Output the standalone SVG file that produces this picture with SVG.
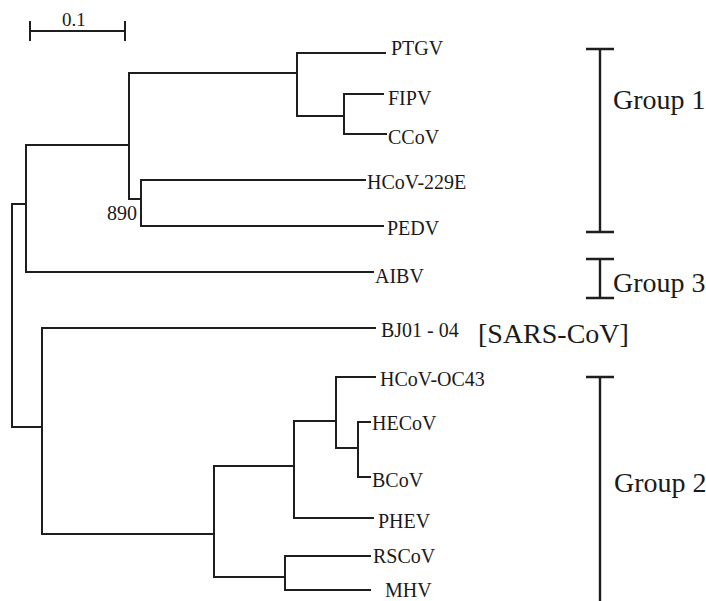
<svg xmlns="http://www.w3.org/2000/svg" width="706" height="601" viewBox="0 0 706 601">
<style>
.br{fill:none;stroke:#1e1e1e;stroke-width:2;stroke-linecap:square}
.bk{fill:none;stroke:#1e1e1e;stroke-width:2.4}
.lb{font-family:"Liberation Serif","Times New Roman",serif;font-size:20px;fill:#1a1a1a}
.gp{font-family:"Liberation Serif","Times New Roman",serif;font-size:28px;fill:#1a1a1a}
</style>
<rect width="706" height="601" fill="#fff"/>
<g id="scale-bar">
<path class="br" d="M30,31H125M30,22V40M125,22V40"/>
<text class="lb" x="62" y="26" style="font-size:19px">0.1</text>
</g>
<g id="connectors">
<path class="br" d="M12,204V427M12,204H26M26,145V272M26,145H129M26,272H373M129,73V199M129,73H297M129,199H141M297,53V116M297,53H385M297,116H344M344,94V134M344,94H383M344,134H386M141,180V226M141,180H365M141,226H383"/>
<path class="br" d="M12,427H42M42,328V534M42,328H375M42,534H214M214,466V577M214,466H294M294,421V518M294,421H336M336,377V448M336,377H375M336,448H358M358,422V477M358,422H370M358,477H370M294,518H373M214,577H285M285,556V590M285,556H370M285,590H370"/>
</g>
<g id="bootstrap"><text class="lb" x="107" y="220">890</text></g>
<g id="PTGV"><text class="lb" x="391" y="55">PTGV</text></g>
<g id="FIPV"><text class="lb" x="388" y="105">FIPV</text></g>
<g id="CCoV"><text class="lb" x="388" y="144">CCoV</text></g>
<g id="HCoV-229E"><text class="lb" x="367" y="189">HCoV-229E</text></g>
<g id="PEDV"><text class="lb" x="387" y="235">PEDV</text></g>
<g id="AIBV"><text class="lb" x="375" y="283">AIBV</text></g>
<g id="BJ01-04"><text class="lb" x="381" y="337">BJ01 - 04</text><text class="gp" x="478" y="343">[SARS-CoV]</text></g>
<g id="HCoV-OC43"><text class="lb" x="380" y="386">HCoV-OC43</text></g>
<g id="HECoV"><text class="lb" x="372" y="430">HECoV</text></g>
<g id="BCoV"><text class="lb" x="372" y="487">BCoV</text></g>
<g id="PHEV"><text class="lb" x="378" y="528">PHEV</text></g>
<g id="RSCoV"><text class="lb" x="373" y="563">RSCoV</text></g>
<g id="MHV"><text class="lb" x="385" y="597">MHV</text></g>
<g id="group1">
<path class="bk" d="M600,49V232M586,49H614M586,232H614"/>
<text class="gp" x="613" y="109">Group 1</text>
</g>
<g id="group3">
<path class="bk" d="M600,259V298M586,259H614M586,298H614"/>
<text class="gp" x="613" y="292">Group 3</text>
</g>
<g id="group2">
<path class="bk" d="M600,377V601M586,377H614"/>
<text class="gp" x="614" y="492">Group 2</text>
</g>
</svg>
